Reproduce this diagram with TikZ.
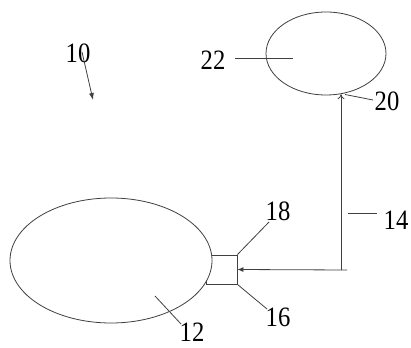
\documentclass[tikz,border=0pt]{standalone}
\usepackage{fontspec}
\setmainfont{Liberation Serif}
\usetikzlibrary{shapes.geometric,arrows.meta}
\newcommand\lbtxt[1]{\scalebox{0.88}[1]{#1}}
\begin{document}
\begin{tikzpicture}[x=1pt,y=-1pt,
  ln/.style={draw=black!75,line width=0.8pt},
  lbl/.style={inner sep=0pt,font=\fontsize{28}{28}\selectfont},
  ell/.style={ellipse,draw=black!75,line width=0.8pt,fill=white,inner sep=0pt}]
\useasboundingbox (0,0) rectangle (411,347);
% port square (drawn first, left part hidden by the ellipse)
\node[ln,rectangle,minimum width=31pt,minimum height=29pt,inner sep=0pt] (sq) at (221.5,269.5) {};
\node[ell,minimum width=202pt,minimum height=125pt] (e12) at (111,260.5) {};
\node[ell,minimum width=120pt,minimum height=83pt] (e20) at (326,53.5) {};
% labels
\node[lbl] (l10) at (78,53) {\lbtxt{10}};
\node[lbl] (l22) at (213,60) {\lbtxt{22}};
\node[lbl] (l20) at (387,101) {\lbtxt{20}};
\node[lbl] (l14) at (396,220) {\lbtxt{14}};
\node[lbl] (l18) at (278,211) {\lbtxt{18}};
\node[lbl] (l16) at (278,317) {\lbtxt{16}};
\node[lbl] (l12) at (192,332) {\lbtxt{12}};
% junction
\coordinate (j) at (341,270);
\coordinate (jr) at (347,270);
\draw[ln,-{Latex[length=6pt,width=5pt]}] (jr) -- (sq.east);
\draw[ln,-{To[length=5pt,width=7pt]}] (j) -- (j |- e20.-71);
% leaders
\coordinate (c10) at (82,52);
\coordinate (t10) at (93,100);
\draw[ln,-{Latex[length=7pt,width=5pt]}] (c10) -- (t10);
\coordinate (c22a) at (235,58.5);
\coordinate (c22) at (293,58.5);
\draw[ln] (c22a) -- (c22);
\coordinate (c20a) at (345,94.5);
\coordinate (c20b) at (373,100);
\draw[ln] (c20a) -- (c20b);
\coordinate (c14a) at (348,213.5);
\coordinate (c14b) at (377,213.5);
\draw[ln] (c14a) -- (c14b);
\coordinate (c18) at (269,222);
\draw[ln] (sq.north east) -- (c18);
\coordinate (c16) at (267,309);
\draw[ln] (sq.south east) -- (c16);
\coordinate (c12a) at (155,296);
\coordinate (c12b) at (181,324);
\draw[ln] (c12a) -- (c12b);
\end{tikzpicture}
\end{document}
